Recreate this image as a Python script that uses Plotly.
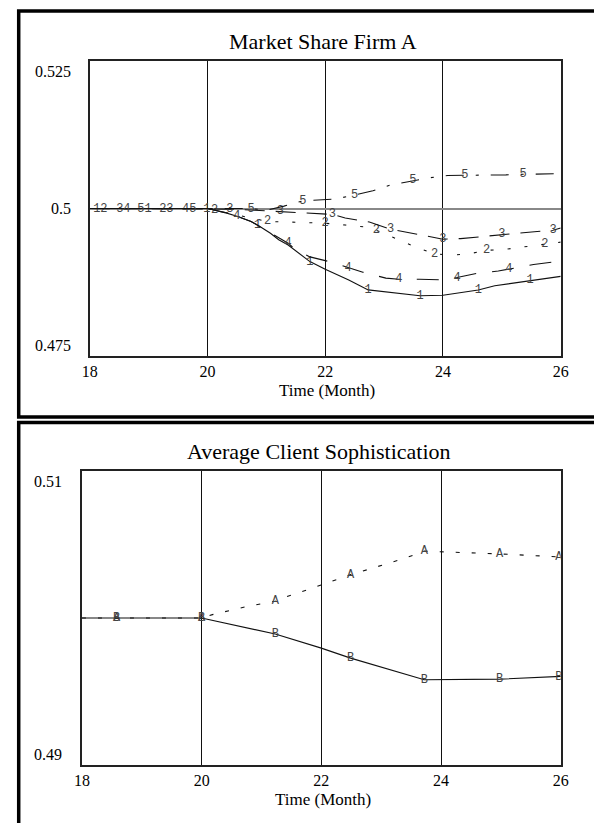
import numpy as np
import plotly.graph_objects as go

W, H = 594, 823

# ---------------- Data: Market Share Firm A ----------------
ms1_t = [18, 20, 20.3, 20.5, 20.74, 20.85, 21.07, 21.21, 21.37, 21.6, 21.74, 22.0, 22.4, 22.73, 23.22, 23.61, 24.0, 24.6, 24.88, 25.48, 26.0]
ms1_v = [0.5, 0.5, 0.4993, 0.4987, 0.4978, 0.4972, 0.4958, 0.4947, 0.4938, 0.4921, 0.4910, 0.4897, 0.4879, 0.4862, 0.4857, 0.4852, 0.4853, 0.4862, 0.4869, 0.4878, 0.4885]
ms1_lbl = [18.12, 18.99, 19.99, 20.85, 21.74, 22.73, 23.61, 24.6, 25.48]

ms2_t = [18, 20, 20.5, 21.02, 21.4, 21.73, 22.0, 22.34, 22.66, 22.87, 23.22, 23.53, 23.86, 24.13, 24.43, 24.74, 25.07, 25.37, 25.73, 26.0]
ms2_v = [0.5, 0.5, 0.4989, 0.4978, 0.4977, 0.4976, 0.4975, 0.4972, 0.4969, 0.4963, 0.4948, 0.4935, 0.4923, 0.4921, 0.4923, 0.4929, 0.4931, 0.4935, 0.4940, 0.4943]
ms2_lbl = [18.24, 19.24, 20.12, 21.02, 22.0, 22.87, 23.86, 24.74, 25.73]

ms3_t = [18, 20, 20.38, 20.8, 21.24, 21.68, 22.12, 22.34, 22.75, 23.11, 23.64, 24.0, 24.3, 24.93, 25.0, 25.6, 25.87, 26.0]
ms3_v = [0.5, 0.5, 0.4999, 0.4997, 0.4995, 0.4992, 0.4990, 0.4984, 0.4977, 0.4965, 0.4955, 0.4948, 0.4949, 0.4955, 0.4956, 0.4961, 0.4963, 0.4967]
ms3_lbl = [18.51, 19.36, 20.38, 21.24, 22.12, 23.11, 24.0, 25.0, 25.87]

ms4_t = [18, 20, 20.3, 20.5, 20.74, 21.07, 21.37, 21.5, 21.74, 22.07, 22.39, 22.64, 23.03, 23.25, 23.6, 23.98, 24.24, 24.57, 24.94, 25.12, 25.54, 25.92, 26.0]
ms4_v = [0.5, 0.5, 0.4993, 0.4987, 0.4978, 0.4958, 0.4941, 0.4930, 0.4918, 0.4910, 0.4900, 0.4892, 0.4882, 0.4880, 0.4880, 0.4879, 0.4883, 0.4890, 0.4894, 0.4897, 0.4905, 0.4910, 0.4911]
ms4_lbl = [18.63, 19.63, 20.5, 21.37, 22.39, 23.25, 24.24, 25.12]

ms5_t = [18, 20, 20.74, 21.0, 21.3, 21.62, 21.84, 22.17, 22.5, 22.81, 23.11, 23.39, 23.49, 23.77, 24.08, 24.37, 24.76, 25.07, 25.36, 25.65, 26.0]
ms5_v = [0.5, 0.5, 0.5, 0.4997, 0.5004, 0.5013, 0.5014, 0.5016, 0.5023, 0.5030, 0.5040, 0.5045, 0.5048, 0.5052, 0.5056, 0.5056, 0.5056, 0.5057, 0.5058, 0.5058, 0.5059]
ms5_lbl = [18.87, 19.75, 20.74, 21.62, 22.5, 23.49, 24.37, 25.36]

ms_yticks = [0.475, 0.5, 0.525]
ms_ytick_text = ["0.475", "0.5", "0.525"]

# ---------------- Data: Average Client Sophistication ----------------
acA_t = [18, 18.58, 20, 20.18, 20.46, 20.77, 21.23, 21.35, 21.66, 21.94, 22.2, 22.49, 22.83, 23.1, 23.42, 23.72, 24.3, 24.98, 25.97, 26.0]
acA_v = [0.5, 0.5, 0.5, 0.50023, 0.5005, 0.5008, 0.50114, 0.50136, 0.50177, 0.50216, 0.50257, 0.50295, 0.50336, 0.50368, 0.5041, 0.50455, 0.50448, 0.50436, 0.50416, 0.50415]
acB_t = [18, 18.58, 20, 21.23, 22.0, 22.49, 23.72, 24.98, 25.97, 26.0]
acB_v = [0.5, 0.5, 0.5, 0.49891, 0.49795, 0.49727, 0.4958, 0.49584, 0.49602, 0.49603]
ac_lbl = [18.58, 20.0, 21.23, 22.49, 23.72, 24.98, 25.97]

ac_yticks = [0.49, 0.51]
ac_ytick_text = ["0.49", "0.51"]

x_ticks = [18, 20, 22, 24, 26]
x_tick_text = ["18", "20", "22", "24", "26"]

# ---------------- Figure ----------------
def px_x(x):
    return x / W

def px_y(y):
    return 1 - y / H

fig = go.Figure()

SERIF = "Liberation Serif, Times New Roman, serif"
MONO = "Liberation Mono, Courier New, monospace"
LBLC = "#444444"

top_series = [
    (ms1_t, ms1_v, ms1_lbl, "1", "solid"),
    (ms2_t, ms2_v, ms2_lbl, "2", "3px,14px"),
    (ms3_t, ms3_v, ms3_lbl, "3", "20px,11px"),
    (ms4_t, ms4_v, ms4_lbl, "4", "22px,16px"),
    (ms5_t, ms5_v, ms5_lbl, "5", "18px,12px,3px,12px"),
]
for t, v, lbl, name, dash in top_series:
    fig.add_trace(go.Scatter(x=t, y=v, mode="lines", xaxis="x", yaxis="y",
                             line=dict(color="#111111", width=1.1, dash=dash),
                             showlegend=False, hoverinfo="skip"))
    fig.add_trace(go.Scatter(x=lbl, y=np.interp(lbl, t, v), mode="text", xaxis="x", yaxis="y",
                             text=[name] * len(lbl), textposition="middle center",
                             textfont=dict(family=MONO, size=12, color=LBLC),
                             showlegend=False, hoverinfo="skip"))

bottom_series = [
    (acA_t, acA_v, "A", "4px,12px"),
    (acB_t, acB_v, "B", "solid"),
]
for t, v, name, dash in bottom_series:
    fig.add_trace(go.Scatter(x=t, y=v, mode="lines", xaxis="x2", yaxis="y2",
                             line=dict(color="#111111", width=1.1, dash=dash),
                             showlegend=False, hoverinfo="skip"))
    fig.add_trace(go.Scatter(x=ac_lbl, y=np.interp(ac_lbl, t, v), mode="text", xaxis="x2", yaxis="y2",
                             text=[name] * len(ac_lbl), textposition="middle center",
                             textfont=dict(family=MONO, size=12, color=LBLC),
                             showlegend=False, hoverinfo="skip"))

xcommon = dict(range=[18, 26], tickvals=x_ticks, ticktext=x_tick_text, showgrid=True,
               gridcolor="#111111", gridwidth=1, showline=True, mirror=True,
               linecolor="#222222", linewidth=2, zeroline=False, ticks="",
               tickfont=dict(family=SERIF, size=16, color="black"), fixedrange=True)

fig.update_layout(
    width=W, height=H,
    margin=dict(l=0, r=0, t=0, b=0),
    paper_bgcolor="white", plot_bgcolor="white",
    xaxis=dict(domain=[px_x(84), px_x(568)], anchor="y", **xcommon),
    yaxis=dict(domain=[px_y(356), px_y(61)], anchor="x", range=[0.475, 0.525],
               tickvals=[0.5], showticklabels=False, showgrid=True, gridcolor="#888888",
               gridwidth=1.5, showline=True, mirror=True, linecolor="#222222",
               linewidth=2, zeroline=False, ticks="", fixedrange=True),
    xaxis2=dict(domain=[px_x(76), px_x(568)], anchor="y2", **xcommon),
    yaxis2=dict(domain=[px_y(765), px_y(471)], anchor="x2", range=[0.49, 0.51],
                tickvals=[], showticklabels=False, showgrid=False, showline=True,
                mirror=True, linecolor="#222222", linewidth=2, zeroline=False,
                ticks="", fixedrange=True),
)

annotations = []
# Titles
annotations.append(dict(text="Market Share Firm A", xref="paper", yref="paper",
                        x=px_x(324), y=px_y(41), xanchor="center", yanchor="middle",
                        showarrow=False, font=dict(family=SERIF, size=22, color="black")))
annotations.append(dict(text="Average Client Sophistication", xref="paper", yref="paper",
                        x=px_x(320), y=px_y(451), xanchor="center", yanchor="middle",
                        showarrow=False, font=dict(family=SERIF, size=22, color="black")))
# X-axis titles
annotations.append(dict(text="Time (Month)", xref="paper", yref="paper",
                        x=px_x(328), y=px_y(390), xanchor="center", yanchor="middle",
                        showarrow=False, font=dict(family=SERIF, size=17, color="black")))
annotations.append(dict(text="Time (Month)", xref="paper", yref="paper",
                        x=px_x(324), y=px_y(799), xanchor="center", yanchor="middle",
                        showarrow=False, font=dict(family=SERIF, size=17, color="black")))
# Y tick labels (end labels sit inside the axis span as in the original)
anch = {0: "bottom", 1: "middle", 2: "top"}
for i, (val, txt) in enumerate(zip(ms_yticks, ms_ytick_text)):
    annotations.append(dict(text=txt, xref="paper", yref="y", x=px_x(67), y=val,
                            xanchor="right", yanchor=anch[i], showarrow=False,
                            font=dict(family=SERIF, size=16, color="black")))
anch2 = {0: "bottom", 1: "top"}
for i, (val, txt) in enumerate(zip(ac_yticks, ac_ytick_text)):
    annotations.append(dict(text=txt, xref="paper", yref="y2", x=px_x(58), y=val,
                            xanchor="right", yanchor=anch2[i], showarrow=False,
                            font=dict(family=SERIF, size=16, color="black")))
fig.update_layout(annotations=annotations)

# Outer panel frames
shapes = [
    dict(type="rect", xref="paper", yref="paper", x0=px_x(11), x1=px_x(605),
         y0=px_y(417), y1=px_y(11), line=dict(color="black", width=3.5)),
    dict(type="rect", xref="paper", yref="paper", x0=px_x(11), x1=px_x(605),
         y0=px_y(835), y1=px_y(422.5), line=dict(color="black", width=3.5)),
]
fig.update_layout(shapes=shapes)

fig.write_html("out.html", config={"displayModeBar": False},
               post_script="document.body.style.margin='0';document.body.style.overflow='hidden';")
